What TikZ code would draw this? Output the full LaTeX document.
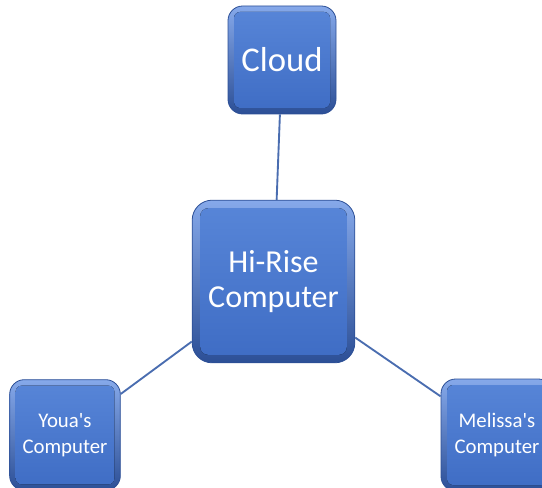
\documentclass[tikz,border=0pt]{standalone}
\usepackage{fontspec}
\newfontfamily\boxfont{Carlito}
\usetikzlibrary{calc}
\definecolor{edgetop}{HTML}{86A9EA}
\definecolor{edgebot}{HTML}{2C4F96}
\definecolor{facetop}{HTML}{5886D8}
\definecolor{facebot}{HTML}{3E6CC4}
\definecolor{linkblue}{HTML}{4A6DB0}
\tikzset{
  bevelbox/.style args={#1/#2/#3}{
    rectangle, rounded corners=#2, minimum width=#1, minimum height=#1,
    inner sep=0pt, align=center, text=white,
    draw=edgebot, line width=0.6pt,
    top color=edgetop, bottom color=edgebot,
    path picture={
      \fill[rounded corners=#3, top color=facetop, bottom color=facebot]
        ($(path picture bounding box.south west)+(#3,#3)$) rectangle
        ($(path picture bounding box.north east)+(-#3,-#3)$);
    }
  },
  link/.style={draw=linkblue, line width=1.4pt}
}
\begin{document}
\begin{tikzpicture}[x=0.75pt,y=-0.75pt]
\useasboundingbox (0,0) rectangle (542,488);
\clip (0,0) rectangle (542,488);
\node[bevelbox={81pt/11pt/4.5pt}, font=\boxfont\fontsize{26}{30}\selectfont] (cloud) at (282,60) {Cloud};
\node[bevelbox={122pt/15pt/6pt}, font=\boxfont\fontsize{24}{26.5}\selectfont] (hub) at (273.5,281.5) {Hi-Rise\\Computer};
\node[bevelbox={83pt/11pt/4.5pt}, font=\boxfont\fontsize{15.6}{19}\selectfont] (youa) at (65,435) {Youa's\\Computer};
\node[bevelbox={84pt/11pt/4.5pt}, font=\boxfont\fontsize{15.6}{19}\selectfont] (melissa) at (497,435) {Melissa's\\Computer};
\draw[link] (cloud) -- (hub);
\draw[link] (hub) -- (youa);
\draw[link] (hub) -- (melissa);
\end{tikzpicture}
\end{document}
